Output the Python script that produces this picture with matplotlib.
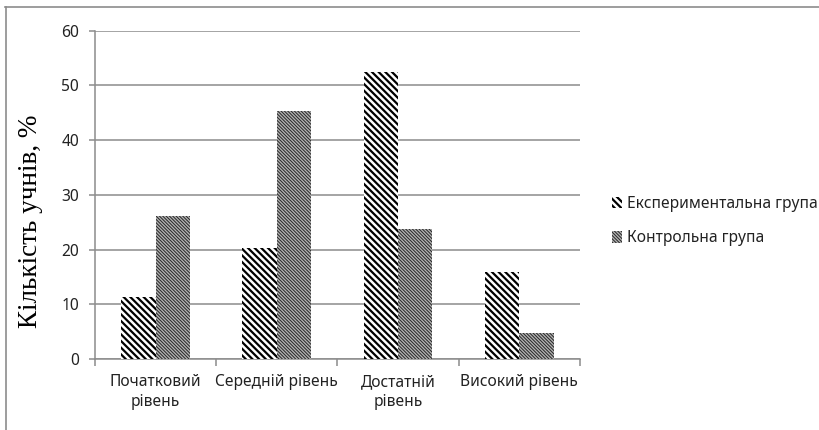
import numpy as np
import matplotlib.pyplot as plt
from matplotlib.lines import Line2D

# рівні навчальних досягнень та частка учнів (%)
levels = ['Початковий\nрівень', 'Середній рівень', 'Достатній\nрівень', 'Високий рівень']
exp_group = [11.3, 20.3, 52.4, 15.9]
ctrl_group = [26.1, 45.3, 23.8, 4.7]
series_names = ['Експериментальна група', 'Контрольна група']

plt.rcParams['font.family'] = ['Noto Sans', 'DejaVu Sans']

fig = plt.figure(figsize=(8.19, 4.30), dpi=100)
ax = fig.add_axes([0.116, 0.165, 0.592, 0.764])

x = np.arange(len(levels))
w = 0.284
grid_c = '#8c8c8c'
hatch_exp = '\\' * 5
hatch_ctrl = '\\' * 10

b1 = ax.bar(x - w / 2, exp_group, w, facecolor='white', edgecolor='black',
            linewidth=0, hatch=hatch_exp, label=series_names[0], zorder=3)
b2 = ax.bar(x + w / 2, ctrl_group, w, facecolor='#b4b4b4', edgecolor='#2a2a2a',
            linewidth=0, hatch=hatch_ctrl, label=series_names[1], zorder=3)
for p in b1:
    p.set_hatch_linewidth(1.6)
for p in b2:
    p.set_hatch_linewidth(0.75)

ax.set_xlim(-0.5, 3.5)
ax.set_ylim(0, 60)
ax.set_yticks(range(0, 61, 10))
ax.yaxis.grid(True, color=grid_c, linewidth=1.1, zorder=0)
ax.set_axisbelow(True)

ax.set_xticks(x)
ax.set_xticklabels(levels, fontsize=11.2, color='#222222', linespacing=1.3)
ax.set_xticks(np.arange(-0.5, 4, 1), minor=True)
ax.tick_params(axis='x', which='major', length=0, pad=11)
ax.tick_params(axis='x', which='minor', length=5, color=grid_c, width=1.1)
ax.tick_params(axis='y', length=4.5, color=grid_c, width=1.1, pad=7,
               labelsize=11.2, labelcolor='#222222')

for s in ['top', 'right']:
    ax.spines[s].set_visible(False)
for s in ['left', 'bottom']:
    ax.spines[s].set_color(grid_c)
    ax.spines[s].set_linewidth(1.1)

ax.set_ylabel('Кількість учнів, %', family='Liberation Serif', fontsize=19.5)
ax.yaxis.set_label_coords(-0.107, 0.42)

leg = fig.legend(loc='center left', bbox_to_anchor=(0.738, 0.486), frameon=False,
                 fontsize=11.2, handlelength=0.6, handleheight=0.75,
                 handletextpad=0.35, labelspacing=1.2, borderpad=0)
for t in leg.get_texts():
    t.set_color('#222222')
leg.legend_handles[0].set_hatch_linewidth(1.6)
leg.legend_handles[1].set_hatch_linewidth(0.75)

# рамка навколо діаграми
fig.add_artist(Line2D([0.006, 1.0], [0.983, 0.983], transform=fig.transFigure,
                      color=grid_c, linewidth=1.2))
fig.add_artist(Line2D([0.0068, 0.0068], [0.0, 0.983], transform=fig.transFigure,
                      color=grid_c, linewidth=1.2))

fig.savefig('out.png', dpi=100)
